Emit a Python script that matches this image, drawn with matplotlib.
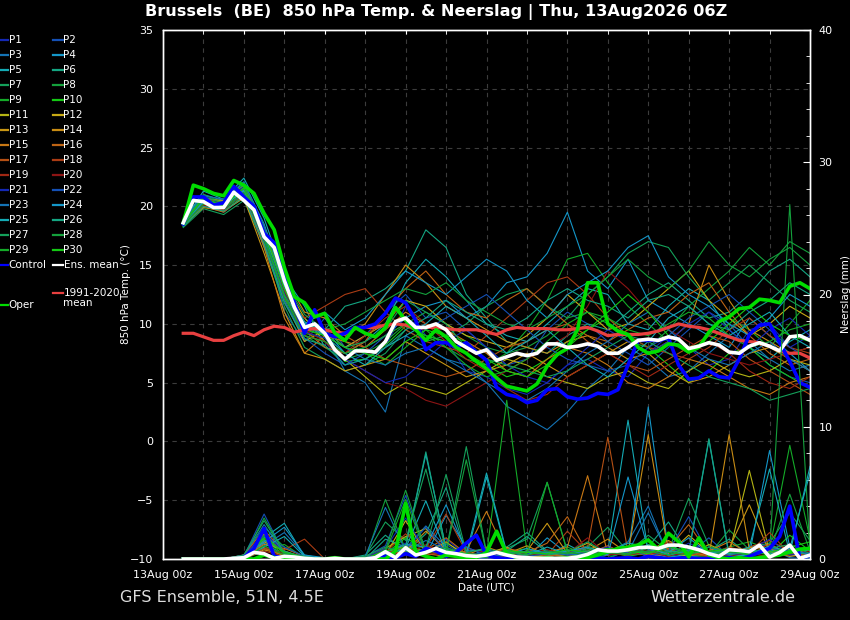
import numpy as np
import matplotlib
matplotlib.use('Agg')
import matplotlib.pyplot as plt
from matplotlib.lines import Line2D
from matplotlib.ticker import MultipleLocator

# Tijdas: uren na 13Aug 00z
uren_6h = np.arange(12, 385, 6)      # hoofdreeksen, 6-uurlijks
uren_12h = np.arange(12, 385, 12)    # leden, 12-uurlijks
xtick_uren = [0, 48, 96, 144, 192, 240, 288, 336, 384]
xtick_labels = ['13Aug 00z', '15Aug 00z', '17Aug 00z', '19Aug 00z', '21Aug 00z',
                '23Aug 00z', '25Aug 00z', '27Aug 00z', '29Aug 00z']

# Hoofdreeksen (850 hPa temp, C)
ens_mean = [18.6, 20.5, 20.4, 19.9, 19.9, 21.2, 20.5, 19.7, 17.4, 16.5, 13.7, 11.4, 9.7, 10.0,
            9.2, 7.8, 7.0, 7.7, 7.7, 7.6, 8.5, 10.2, 10.5, 9.7, 9.7, 10.0, 9.5, 8.5, 8.0, 7.5,
            7.8, 6.9, 7.2, 7.5, 7.3, 7.5, 8.3, 8.3, 8.0, 8.1, 8.3, 8.1, 7.5, 7.5, 8.0, 8.6,
            8.7, 8.6, 8.9, 8.7, 7.9, 8.1, 8.4, 8.2, 7.6, 7.5, 8.1, 8.4, 8.1, 7.7, 8.9, 9.0, 8.6]
klimaat = [9.2, 9.2, 8.9, 8.6, 8.6, 9.0, 9.3, 9.0, 9.5, 9.8, 9.7, 9.3, 9.5, 9.6, 9.5, 9.3,
           9.2, 9.6, 9.7, 9.7, 9.9, 10.0, 9.9, 9.6, 9.7, 9.7, 9.6, 9.5, 9.5, 9.5, 9.3, 9.1,
           9.5, 9.7, 9.6, 9.6, 9.6, 9.5, 9.5, 9.6, 9.7, 9.4, 9.0, 9.1, 9.1, 9.1, 9.2, 9.4,
           9.7, 10.0, 9.8, 9.7, 9.5, 9.2, 8.9, 8.6, 8.5, 8.4, 8.1, 7.7, 7.5, 7.5, 7.1]
control = [18.5, 20.8, 20.8, 20.1, 20.3, 21.7, 20.8, 20.0, 17.7, 16.9, 14.0, 11.8, 9.2, 11.2,
           9.2, 8.9, 9.2, 9.7, 9.7, 10.0, 10.9, 12.2, 11.8, 10.3, 7.8, 8.4, 8.4, 8.0, 8.4, 7.6,
           6.9, 4.6, 4.0, 3.8, 3.3, 3.5, 4.4, 4.5, 3.8, 3.6, 3.7, 4.1, 4.0, 4.4, 6.5, 8.6,
           8.6, 8.6, 8.8, 6.5, 5.3, 5.4, 6.0, 5.5, 5.4, 7.0, 9.1, 9.9, 10.0, 8.4, 6.8, 5.0, 4.6]
oper = [18.6, 21.8, 21.5, 21.1, 20.9, 22.2, 21.8, 21.1, 19.4, 18.0, 14.8, 12.3, 11.8, 10.6,
        10.9, 9.2, 8.6, 9.7, 9.2, 8.9, 9.7, 11.4, 10.3, 9.5, 8.6, 9.5, 8.9, 8.0, 7.5, 6.8,
        6.2, 5.4, 4.7, 4.5, 4.3, 4.9, 6.4, 7.4, 7.9, 9.5, 13.5, 13.5, 10.0, 9.4, 9.1, 8.0,
        7.5, 7.7, 8.3, 8.2, 7.6, 8.0, 9.3, 10.2, 10.6, 11.3, 11.4, 12.1, 12.0, 11.8, 13.2, 13.5, 13.0]

# Neerslag hoofdreeksen (mm per 6 uur)
neerslag_mean = [0, 0, 0, 0, 0, 0.05, 0.1, 0.5, 0.4, 0.05, 0.2, 0.15, 0.05, 0, 0, 0.05, 0, 0, 0,
                 0.1, 0.55, 0.1, 0.85, 0.3, 0.5, 0.8, 0.5, 0.4, 0.25, 0.2, 0.3, 0.5, 0.3, 0.15,
                 0.1, 0.05, 0.05, 0.05, 0.05, 0.15, 0.35, 0.7, 0.6, 0.6, 0.7, 0.85, 0.9, 0.8,
                 1.05, 1.05, 0.9, 0.7, 0.4, 0.2, 0.7, 0.65, 0.55, 1.05, 0.15, 0.5, 1.05, 0.05, 0.3]
neerslag_control = [0, 0, 0, 0, 0, 0, 0.1, 0.8, 2.3, 0.2, 0.1, 0, 0, 0, 0, 0, 0, 0, 0, 0.1, 0.2,
                    0.1, 0.4, 0.2, 0.8, 0.6, 0.2, 0.5, 1.2, 1.8, 0.3, 0.1, 0, 0.05, 0, 0, 0.05,
                    0, 0, 0, 0, 0.1, 0, 0.05, 0.1, 0, 0.2, 0.1, 0, 0.05, 0.1, 0, 0.05, 0, 0.1,
                    0, 0.2, 0.5, 0.8, 1.7, 4.0, 0, 0.3]
neerslag_oper = [0, 0, 0, 0, 0, 0, 0, 0, 0.3, 0.1, 0, 0, 0, 0, 0, 0.1, 0, 0, 0, 0, 0, 0.6, 4.2,
                 0.5, 0.2, 0, 0.3, 0.2, 0, 0.1, 0.5, 2.1, 0.4, 0.1, 0.1, 0, 0.1, 0, 0.1, 0,
                 0.1, 0.3, 0.55, 0.8, 0.9, 1.06, 1.44, 0.7, 1.95, 1.3, 0.15, 1.6, 0.3, 0.1, 0,
                 0.1, 0, 0.1, 0.2, 0.3, 0.55, 0.75, 0.8]

# Leden P1..P30, 850 hPa temp (12-uurlijks)
leden_temp = [
    [18.3, 20.0, 19.8, 21.0, 17.0, 12.5, 9.0, 8.5, 6.5, 7.0, 8.0, 11.5, 9.0, 8.5, 6.0, 5.5, 4.5, 4.0, 5.0, 6.5, 7.0, 6.0, 5.5, 7.5, 9.0, 8.0, 6.5, 7.0, 9.5, 10.0, 8.0, 9.0],
    [18.8, 20.8, 20.4, 21.8, 18.0, 11.0, 8.5, 10.5, 8.0, 9.0, 11.0, 12.5, 10.5, 11.0, 9.5, 8.0, 6.5, 7.0, 9.5, 11.0, 10.0, 8.5, 7.5, 6.5, 8.0, 9.5, 11.0, 10.0, 8.0, 6.5, 5.5, 5.0],
    [18.5, 20.3, 19.5, 20.8, 16.5, 12.0, 10.5, 9.0, 6.0, 5.0, 2.5, 9.0, 8.0, 7.0, 6.5, 5.0, 3.0, 2.0, 1.0, 2.5, 4.5, 6.0, 8.0, 7.0, 5.5, 6.0, 7.5, 9.0, 8.5, 7.0, 6.0, 6.5],
    [18.9, 21.0, 20.5, 22.0, 18.5, 13.5, 10.0, 9.5, 7.5, 8.0, 9.0, 10.5, 11.5, 12.0, 10.5, 11.5, 13.5, 14.0, 16.0, 19.5, 14.5, 13.0, 15.5, 12.0, 11.0, 10.0, 9.0, 8.0, 10.5, 9.0, 7.5, 6.0],
    [18.7, 21.3, 20.6, 22.4, 19.0, 14.0, 11.5, 8.0, 7.5, 8.5, 10.0, 13.5, 15.5, 14.0, 12.0, 10.0, 9.0, 8.5, 10.0, 11.5, 13.0, 12.5, 10.0, 9.5, 11.5, 13.0, 12.0, 9.5, 8.0, 7.0, 8.5, 9.5],
    [18.4, 20.5, 20.1, 21.5, 17.8, 12.8, 10.0, 9.5, 11.5, 12.0, 13.0, 14.5, 18.0, 16.5, 12.5, 10.5, 8.5, 8.0, 7.5, 9.0, 10.0, 9.5, 11.0, 12.5, 13.5, 12.0, 10.5, 11.0, 12.5, 14.5, 15.5, 14.0],
    [18.2, 19.8, 19.3, 20.5, 16.8, 11.5, 8.0, 7.0, 6.0, 6.5, 7.5, 9.5, 8.5, 9.0, 10.0, 11.5, 12.5, 13.0, 11.5, 10.5, 12.5, 14.0, 16.0, 17.0, 16.5, 14.0, 12.0, 13.5, 15.0, 13.5, 12.0, 11.0],
    [18.6, 20.6, 20.0, 21.3, 17.5, 12.0, 9.0, 8.0, 7.0, 7.5, 8.5, 10.0, 11.0, 10.0, 9.0, 8.0, 7.5, 8.0, 9.0, 10.5, 11.0, 10.0, 8.5, 8.0, 9.5, 11.5, 13.0, 14.5, 16.5, 15.0, 17.0, 16.0],
    [18.5, 21.0, 20.3, 21.6, 18.2, 12.5, 9.5, 9.0, 8.5, 7.5, 6.5, 8.0, 9.5, 8.0, 7.0, 6.5, 7.5, 9.5, 12.0, 15.5, 16.0, 13.5, 11.5, 10.0, 8.5, 7.5, 9.0, 10.5, 9.5, 8.0, 10.0, 12.0],
    [18.3, 20.2, 19.7, 21.0, 17.2, 12.2, 9.2, 8.8, 6.8, 7.0, 8.2, 9.8, 9.0, 8.5, 7.5, 6.5, 5.5, 6.0, 7.0, 8.5, 9.5, 10.5, 9.0, 8.0, 6.5, 5.0, 6.0, 7.5, 8.0, 6.5, 5.5, 4.5],
    [18.9, 20.6, 20.5, 21.8, 17.8, 13.5, 10.5, 8.5, 7.0, 5.5, 4.0, 5.0, 4.5, 4.0, 5.0, 6.0, 7.0, 6.5, 5.5, 5.0, 4.5, 5.5, 6.0, 5.0, 4.5, 6.0, 7.0, 6.0, 5.5, 6.0, 7.0, 6.5],
    [18.6, 20.1, 19.9, 21.1, 16.8, 12.0, 8.5, 9.5, 8.0, 9.0, 10.0, 12.0, 11.5, 10.0, 9.0, 8.5, 8.0, 9.0, 10.5, 12.5, 11.0, 9.5, 10.0, 11.5, 13.0, 14.5, 12.0, 10.5, 9.0, 10.0, 11.5, 10.5],
    [18.4, 19.9, 19.6, 20.7, 16.0, 11.0, 7.5, 7.0, 6.0, 6.5, 7.0, 8.5, 7.5, 6.5, 5.5, 6.0, 6.5, 7.5, 6.5, 5.5, 6.5, 7.5, 8.5, 7.5, 6.0, 5.0, 5.5, 6.5, 7.5, 8.0, 7.0, 6.0],
    [18.8, 20.4, 20.2, 21.4, 17.5, 14.0, 11.0, 10.5, 9.0, 10.0, 12.5, 15.0, 13.5, 11.5, 10.5, 9.5, 8.5, 8.0, 7.5, 8.5, 9.0, 8.0, 7.0, 7.5, 8.5, 10.0, 15.0, 12.0, 9.5, 8.5, 7.5, 8.0],
    [18.7, 20.3, 19.8, 21.2, 16.5, 10.5, 7.5, 9.0, 8.5, 8.0, 9.5, 11.0, 10.0, 9.5, 8.5, 7.5, 6.0, 5.5, 7.0, 8.0, 7.5, 6.5, 5.0, 4.5, 5.5, 7.0, 6.5, 5.5, 4.5, 4.0, 5.0, 5.5],
    [18.5, 20.0, 19.5, 20.9, 17.0, 12.5, 9.5, 8.0, 7.5, 8.5, 11.0, 13.0, 14.5, 12.5, 11.0, 10.5, 12.0, 13.0, 11.5, 10.0, 9.0, 8.5, 9.5, 10.5, 11.0, 12.5, 13.5, 11.0, 9.0, 7.5, 6.5, 7.0],
    [18.6, 20.7, 20.3, 21.6, 18.0, 13.0, 9.8, 9.5, 9.0, 8.0, 7.0, 6.5, 6.0, 5.5, 6.0, 7.0, 8.0, 8.5, 9.5, 10.0, 8.5, 7.5, 6.5, 6.0, 7.0, 8.0, 9.0, 8.5, 7.0, 6.0, 5.0, 4.0],
    [18.4, 20.2, 19.9, 21.0, 17.3, 12.2, 10.5, 11.5, 12.5, 13.0, 11.0, 9.5, 8.5, 8.0, 7.5, 9.0, 10.5, 12.0, 13.5, 14.0, 12.5, 10.5, 9.0, 8.0, 7.5, 7.0, 8.0, 9.5, 10.5, 9.0, 8.0, 7.5],
    [18.7, 20.5, 20.1, 21.5, 17.6, 12.8, 9.0, 8.5, 7.5, 9.0, 10.5, 11.5, 10.0, 8.5, 7.0, 6.0, 4.5, 3.5, 4.0, 5.5, 6.5, 7.5, 6.5, 5.5, 6.5, 7.5, 8.5, 7.5, 6.0, 5.0, 4.5, 5.5],
    [18.5, 20.1, 19.7, 21.2, 17.0, 12.5, 9.5, 8.5, 7.0, 6.0, 5.0, 4.5, 3.5, 3.0, 4.0, 5.0, 6.0, 7.0, 8.0, 9.0, 11.5, 14.5, 13.0, 11.0, 9.5, 8.5, 7.5, 7.0, 6.5, 7.0, 7.5, 8.0],
    [18.6, 20.6, 20.2, 21.7, 17.7, 12.6, 9.3, 8.8, 7.0, 6.0, 5.0, 5.5, 7.0, 8.5, 9.5, 8.0, 6.5, 5.5, 5.0, 6.5, 8.0, 9.5, 8.5, 7.5, 8.5, 10.0, 11.0, 9.5, 8.0, 9.5, 10.5, 9.0],
    [18.4, 20.3, 19.8, 21.1, 17.1, 12.0, 8.8, 7.5, 6.5, 7.5, 9.0, 10.5, 9.5, 10.5, 11.5, 12.5, 11.0, 9.5, 8.0, 7.0, 6.5, 6.0, 6.5, 8.0, 9.0, 10.5, 11.5, 12.5, 11.0, 9.5, 8.0, 7.0],
    [18.8, 20.9, 20.6, 22.1, 18.3, 13.3, 9.8, 9.0, 8.0, 7.0, 6.5, 7.5, 8.0, 7.0, 6.0, 5.0, 4.0, 3.5, 4.5, 6.0, 7.5, 8.5, 10.0, 11.0, 9.5, 8.0, 7.0, 6.5, 7.5, 8.5, 7.0, 6.0],
    [18.5, 20.4, 20.0, 21.4, 17.4, 12.4, 10.0, 11.0, 9.5, 10.5, 12.5, 14.5, 13.5, 12.5, 14.0, 15.5, 14.5, 12.0, 10.5, 12.5, 13.5, 14.5, 16.5, 17.5, 14.0, 12.5, 11.5, 10.0, 9.0, 10.5, 12.5, 11.5],
    [18.6, 20.5, 20.1, 21.3, 17.6, 13.2, 10.2, 9.0, 7.5, 6.5, 8.0, 9.0, 10.0, 11.5, 10.5, 9.0, 7.5, 8.5, 9.5, 8.0, 6.5, 5.5, 7.0, 8.5, 10.5, 11.5, 10.0, 9.0, 10.0, 11.0, 9.0, 8.0],
    [18.3, 20.0, 19.6, 20.8, 16.8, 11.8, 8.7, 8.2, 6.5, 7.0, 8.0, 9.5, 10.5, 12.0, 11.0, 10.0, 9.5, 10.5, 12.0, 13.0, 12.0, 11.5, 10.5, 12.0, 12.5, 11.5, 10.0, 9.5, 11.0, 12.0, 13.5, 12.5],
    [18.7, 20.8, 20.3, 21.9, 18.1, 13.6, 10.8, 9.5, 8.0, 8.5, 9.5, 12.0, 11.0, 10.0, 8.0, 7.0, 6.5, 6.0, 5.5, 6.0, 7.0, 8.0, 9.0, 8.5, 7.5, 6.5, 5.5, 5.0, 4.5, 3.5, 4.0, 4.5],
    [18.5, 20.6, 20.2, 21.5, 17.5, 12.5, 9.5, 9.5, 10.0, 11.0, 12.0, 13.0, 12.5, 13.5, 12.0, 11.0, 10.0, 9.5, 10.5, 11.5, 12.5, 14.0, 15.5, 14.0, 13.0, 14.5, 17.0, 15.0, 14.0, 15.5, 16.5, 15.0],
    [18.4, 20.2, 19.8, 21.2, 17.2, 12.3, 9.0, 8.5, 7.5, 8.0, 9.0, 10.0, 9.0, 8.0, 6.5, 5.5, 6.0, 7.0, 8.5, 10.0, 11.0, 10.5, 9.5, 9.0, 10.0, 11.0, 10.5, 9.0, 8.0, 8.5, 9.5, 10.0],
    [18.6, 20.7, 20.0, 21.6, 17.9, 13.0, 9.6, 9.0, 8.0, 7.5, 7.0, 8.5, 9.5, 9.0, 8.5, 7.0, 6.0, 5.5, 6.5, 8.0, 9.5, 11.0, 12.5, 11.0, 9.0, 8.0, 8.5, 10.0, 11.5, 10.0, 9.0, 8.5],
]

# Leden P1..P30, neerslag (mm, 12-uurlijks)
leden_neerslag = [
    [0, 0, 0, 0.3, 1.8, 0.6, 0, 0, 0, 0.1, 0.5, 1.2, 0.4, 1.5, 0.3, 0, 0.2, 0.6, 0.1, 0, 0.3, 1.0, 0.2, 0.5, 0.1, 0.8, 0.3, 0.1, 0.6, 1.2, 0.2, 0.4],
    [0, 0, 0, 0.2, 3.4, 0.4, 0.1, 0, 0, 0.2, 1.0, 4.8, 0.6, 1.1, 0.2, 0.4, 0, 0.1, 0.3, 0.5, 0.2, 0, 0.7, 0.3, 0, 0.4, 1.6, 0.2, 0, 0.3, 0.5, 0.1],
    [0, 0, 0, 0, 1.0, 2.0, 0.3, 0, 0, 0, 0.4, 0.8, 2.5, 0.9, 0, 0.1, 0.6, 0.2, 0, 0, 0.1, 0.5, 1.3, 4.0, 0.2, 0.1, 0.9, 0.3, 0.2, 0.8, 0.1, 0],
    [0, 0, 0, 0.1, 1.2, 0.3, 0, 0.1, 0, 0.1, 0.2, 0.6, 0.3, 3.3, 0.9, 0.2, 0.7, 0.1, 1.6, 0.4, 0, 0.3, 0.4, 11.5, 0.6, 0.2, 0.1, 0.5, 0.3, 8.2, 0.9, 0.2],
    [0, 0, 0, 0.2, 1.6, 2.7, 0.2, 0, 0, 0, 0.3, 0.9, 7.9, 0.8, 0.1, 6.2, 0.4, 0, 0.2, 1.1, 0.3, 0.6, 10.5, 0.5, 0.1, 0.4, 9.0, 0.2, 0.3, 0.6, 0.8, 6.5],
    [0, 0, 0, 0, 0.8, 0.4, 0, 0, 0, 0.3, 1.8, 0.5, 1.9, 5.4, 0.3, 0.2, 0.9, 2.0, 0.6, 0.1, 0.5, 0.8, 0.3, 0.9, 2.8, 0.4, 0.6, 1.5, 0.3, 0.9, 0.5, 0.3],
    [0, 0, 0, 0.3, 2.4, 0.9, 0.2, 0, 0, 0.2, 2.8, 1.4, 6.8, 0.6, 8.5, 0.5, 0.8, 1.5, 5.8, 0.6, 0.9, 2.4, 0.5, 1.8, 0.6, 4.6, 1.0, 0.3, 0.9, 1.2, 3.5, 1.4],
    [0, 0, 0, 0.1, 3.1, 0.5, 0.1, 0, 0.1, 0, 4.5, 0.7, 0.5, 1.2, 0.4, 0.1, 0.6, 0.3, 0.2, 0.4, 1.0, 0.3, 0.7, 1.5, 0.2, 0.5, 0.3, 2.2, 0.7, 0.4, 26.8, 0.6],
    [0, 0, 0, 0, 0.6, 1.1, 0.1, 0, 0, 0.1, 0.2, 0.5, 1.0, 0.4, 0.2, 0.3, 12.0, 0.6, 0.4, 0.9, 0.3, 0.1, 0.6, 0.4, 0.8, 0.2, 0.4, 0.9, 1.3, 0.7, 8.6, 1.5],
    [0, 0, 0, 0.2, 1.5, 0.3, 0, 0, 0, 0, 0.4, 1.6, 0.7, 0.3, 0.1, 0.2, 0.5, 0.8, 0.3, 0.2, 0.4, 0.6, 0.2, 0.5, 1.0, 0.3, 0.2, 0.5, 0.8, 0.3, 1.8, 0.6],
    [0, 0, 0, 0.1, 0.9, 0.2, 0, 0, 0, 0.1, 0.8, 1.7, 2.3, 0.6, 0.5, 0.2, 0.4, 0.3, 0.1, 0.6, 0.2, 0.4, 0.9, 0.3, 0.5, 0.2, 1.1, 0.4, 6.7, 0.5, 0.3, 0.2],
    [0, 0, 0, 0.2, 1.3, 0.6, 0.1, 0, 0, 0, 0.3, 2.9, 0.5, 1.3, 0.2, 0.4, 0.9, 0.1, 0.3, 0.5, 1.2, 0.3, 0.7, 0.2, 0.4, 1.8, 0.5, 0.3, 0.9, 0.6, 0.2, 0.4],
    [0, 0, 0, 0, 0.7, 0.3, 0, 0, 0, 0, 0.5, 1.0, 0.6, 0.4, 0.1, 0.3, 0.2, 0.6, 2.7, 0.4, 0.3, 0.8, 0.4, 0.6, 1.4, 0.5, 0.3, 0.8, 4.1, 0.5, 0.7, 0.3],
    [0, 0, 0, 0.2, 1.9, 0.4, 0, 0, 0, 0.1, 0.3, 0.6, 2.1, 0.7, 0.3, 0.9, 0.4, 1.0, 0.3, 0.2, 0.6, 1.5, 0.4, 9.4, 0.5, 0.6, 0.2, 9.4, 0.7, 0.3, 0.5, 0.2],
    [0, 0, 0, 0.1, 1.1, 0.8, 0.2, 0, 0, 0, 0.2, 0.9, 0.4, 0.2, 0.6, 3.6, 0.3, 0.2, 0.5, 0.9, 6.3, 0.4, 0.6, 0.3, 0.9, 0.2, 0.6, 1.3, 0.4, 0.8, 0.3, 0.5],
    [0, 0, 0, 0.3, 2.2, 0.5, 0.1, 0, 0.1, 0, 0.6, 0.4, 0.7, 1.6, 0.4, 0.3, 0.8, 0.5, 1.2, 3.2, 0.4, 1.0, 0.3, 0.6, 0.8, 2.6, 0.4, 0.3, 0.6, 1.1, 0.4, 0.7],
    [0, 0, 0, 0, 0.8, 0.3, 0, 0, 0, 0.1, 0.4, 0.7, 0.3, 0.5, 0.2, 0.4, 0.3, 0.6, 0.2, 0.4, 0.9, 9.2, 0.5, 0.3, 0.7, 0.4, 0.2, 0.5, 0.9, 1.4, 0.6, 0.2],
    [0, 0, 0, 0.2, 1.4, 0.7, 1.5, 0, 0, 0, 0.5, 1.9, 0.8, 3.4, 0.5, 0.2, 0.6, 0.4, 0.3, 2.1, 0.5, 0.3, 0.8, 0.4, 1.3, 0.6, 0.3, 0.9, 0.5, 2.0, 0.4, 0.3],
    [0, 0, 0, 0.1, 0.6, 0.2, 0, 0, 0, 0, 0.3, 0.8, 0.5, 0.3, 0.8, 0.5, 0.2, 0.4, 0.7, 0.3, 0.6, 0.4, 0.3, 0.5, 0.2, 0.8, 0.3, 0.6, 0.4, 0.2, 0.5, 0.9],
    [0, 0, 0, 0, 0.9, 0.4, 0.1, 0, 0, 0.2, 0.6, 0.3, 1.1, 0.4, 0.2, 0.3, 0.5, 0.2, 0.6, 0.4, 1.6, 0.3, 0.5, 0.7, 0.3, 0.4, 0.6, 0.2, 0.5, 0.4, 0.3, 0.6],
    [0, 0, 0, 0.2, 2.0, 0.5, 0, 0, 0, 0.1, 0.8, 3.1, 0.6, 0.8, 0.3, 0.5, 0.2, 0.4, 0.6, 0.3, 0.5, 0.9, 0.4, 0.6, 0.3, 1.2, 0.5, 0.4, 0.7, 1.5, 0.3, 0.5],
    [0, 0, 0, 0.1, 1.7, 0.9, 0.2, 0, 0, 0, 0.4, 0.7, 2.4, 0.5, 0.9, 0.3, 0.6, 0.2, 0.4, 0.7, 0.3, 0.5, 0.8, 0.2, 0.6, 3.2, 0.4, 0.3, 0.5, 0.8, 0.6, 0.4],
    [0, 0, 0, 0.3, 2.6, 0.4, 0.1, 0, 0, 0.2, 3.9, 0.6, 1.4, 0.7, 0.4, 0.2, 0.3, 0.6, 0.5, 0.3, 0.4, 0.7, 0.5, 3.5, 0.3, 0.6, 0.9, 0.4, 0.6, 0.5, 0.8, 0.3],
    [0, 0, 0, 0.2, 1.3, 2.4, 0.3, 0.1, 0, 0, 0.5, 1.1, 0.9, 4.1, 0.6, 0.7, 0.3, 0.8, 0.4, 0.6, 0.9, 0.3, 6.2, 0.7, 0.5, 1.6, 0.4, 0.8, 0.3, 1.0, 0.5, 0.7],
    [0, 0, 0, 0.1, 0.9, 1.7, 0.2, 0, 0, 0.1, 0.3, 0.8, 4.4, 0.5, 0.4, 6.5, 0.5, 0.3, 0.9, 0.4, 0.6, 0.5, 1.2, 0.9, 0.3, 0.7, 0.5, 0.4, 0.9, 6.8, 0.4, 7.0],
    [0, 0, 0, 0.2, 1.4, 0.6, 0.1, 0, 0, 0, 1.5, 0.9, 8.1, 0.7, 0.3, 0.4, 0.6, 1.7, 0.5, 0.4, 0.8, 0.6, 0.4, 1.1, 0.6, 0.5, 9.1, 0.3, 0.7, 0.4, 0.6, 0.3],
    [0, 0, 0, 0.3, 2.9, 0.5, 0.2, 0, 0, 0.2, 0.9, 0.4, 0.8, 6.4, 0.5, 0.8, 0.4, 0.6, 0.3, 0.5, 1.3, 0.4, 0.7, 0.5, 0.9, 0.4, 0.6, 0.5, 0.3, 0.8, 1.1, 0.4],
    [0, 0, 0, 0.1, 1.8, 0.4, 0, 0, 0.1, 0, 0.7, 5.2, 0.6, 0.5, 7.5, 0.4, 0.5, 0.3, 0.6, 0.4, 0.7, 0.5, 0.3, 0.8, 0.5, 0.3, 0.9, 0.6, 0.4, 0.5, 4.9, 0.6],
    [0, 0, 0, 0, 1.0, 0.3, 0, 0, 0, 0.1, 0.5, 4.5, 0.4, 0.9, 0.3, 0.2, 0.7, 0.4, 5.8, 0.5, 0.3, 0.6, 0.4, 0.6, 0.3, 0.8, 0.4, 0.5, 0.6, 0.3, 0.4, 0.8],
    [0, 0, 0, 0.2, 1.6, 0.5, 0.1, 0, 0, 0, 0.6, 0.9, 0.5, 0.7, 0.4, 0.3, 0.6, 0.5, 0.4, 0.7, 0.5, 0.8, 0.6, 0.4, 1.0, 0.5, 0.6, 0.7, 0.3, 0.5, 0.9, 1.3],
]

leden_namen = ['P%d' % (i + 1) for i in range(30)]

# Kleuren leden (cyclus van 20)
kleuren = ['#1428b4', '#1450b4', '#1473b4', '#1496c8', '#14aab4', '#14a582', '#14a05a',
           '#14a03c', '#14aa28', '#14c814', '#b4b414', '#c8aa14', '#c89614', '#c88c14',
           '#c87814', '#be6414', '#b45014', '#aa3c14', '#a02814', '#8c1414']

KLEUR_CONTROL = '#0000ff'
KLEUR_OPER = '#00dd00'
KLEUR_MEAN = '#ffffff'
KLEUR_KLIMAAT = '#e84040'

# Figuur
fig = plt.figure(figsize=(8.5, 6.2), dpi=100, facecolor='black')
ax = fig.add_axes([163/850, 61/620, 647/850, 529/620], facecolor='black')
ax2 = ax.twinx()

for i in range(30):
    ax.plot(uren_12h, leden_temp[i], color=kleuren[i % 20], lw=0.8, zorder=2)
    ax2.plot(uren_12h, leden_neerslag[i], color=kleuren[i % 20], lw=0.8, zorder=2)

ax.plot(uren_6h, klimaat, color=KLEUR_KLIMAAT, lw=2.3, zorder=3)
ax.plot(uren_6h, control, color=KLEUR_CONTROL, lw=2.6, zorder=4)
ax.plot(uren_6h, oper, color=KLEUR_OPER, lw=2.6, zorder=5)
ax.plot(uren_6h, ens_mean, color=KLEUR_MEAN, lw=2.6, zorder=6)

ax2.plot(uren_6h, neerslag_control, color=KLEUR_CONTROL, lw=2.6, zorder=4)
ax2.plot(uren_6h, neerslag_oper, color=KLEUR_OPER, lw=2.6, zorder=5)
ax2.plot(uren_6h, neerslag_mean, color=KLEUR_MEAN, lw=2.6, zorder=6)

# Assen
ax.set_xlim(0, 384)
ax.set_ylim(-10, 35)
ax2.set_ylim(0, 40)

ax.set_xticks(xtick_uren)
ax.set_xticklabels(xtick_labels)
ax.xaxis.set_minor_locator(MultipleLocator(24))
ax.yaxis.set_major_locator(MultipleLocator(5))

ax.grid(True, which='both', axis='x', color='#3c3c3c', lw=0.8, ls=(0, (4, 4)))
ax.grid(True, which='major', axis='y', color='#3c3c3c', lw=0.8, ls=(0, (4, 4)))
ax.set_axisbelow(True)

ax.tick_params(axis='x', which='both', direction='in', length=3, color='white',
               bottom=False, top=True, labelbottom=True, labelsize=8,
               labelcolor='white', pad=8)
ax.tick_params(axis='y', length=0, labelsize=8, labelcolor='white', pad=7)

ax2.yaxis.set_major_locator(MultipleLocator(10))
ax2.yaxis.set_minor_locator(MultipleLocator(2))
ax2.tick_params(axis='y', which='major', direction='in', length=5, color='white',
                labelsize=8, labelcolor='white', pad=6)
ax2.tick_params(axis='y', which='minor', direction='in', length=3, color='white')

for a in (ax, ax2):
    for s in a.spines.values():
        s.set_color('white')
        s.set_linewidth(1)

ax.set_ylabel('850 hPa Temp. (°C)', color='white', fontsize=7.5)
ax.yaxis.set_label_coords(-(163 - 131) / 647, 0.5)
ax.set_xlabel('Date (UTC)', color='white', fontsize=7.5, labelpad=2)
ax2.set_ylabel('Neerslag (mm)', color='white', fontsize=7.5)
ax2.yaxis.set_label_coords(1 + (841 - 810) / 647, 0.5)

# Titel en voetteksten
fig.text(0.513, 0.981, 'Brussels  (BE)  850 hPa Temp. & Neerslag | Thu, 13Aug2026 06Z',
         color='white', fontsize=11.6, fontweight='bold', ha='center', va='center')
fig.text(120/850, 1 - 598/620, 'GFS Ensemble, 51N, 4.5E', color='#dddddd',
         fontsize=11.5, ha='left', va='center')
fig.text(650/850, 1 - 598/620, 'Wetterzentrale.de', color='#dddddd',
         fontsize=11.5, ha='left', va='center')

# Legenda (links buiten de grafiek)
def legenda_item(x0, x1, y_px, kleur, tekst):
    y = 1 - y_px / 620
    fig.add_artist(Line2D([x0 / 850, x1 / 850], [y, y], color=kleur,
                          lw=1.6, transform=fig.transFigure))
    fig.text((x1 + 0.5) / 850, y, tekst, color='white', fontsize=7.5, ha='left',
             va='center')

for i in range(30):
    rij = i // 2
    if i % 2 == 0:
        legenda_item(0, 8, 40 + 15 * rij, kleuren[i % 20], leden_namen[i])
    else:
        legenda_item(53, 63, 40 + 15 * rij, kleuren[i % 20], leden_namen[i])

legenda_item(0, 8, 265, KLEUR_CONTROL, 'Control')
legenda_item(53, 63, 265, KLEUR_MEAN, 'Ens. mean')
legenda_item(53, 63, 293, KLEUR_KLIMAAT, '1991-2020')
fig.text(63.5 / 850, 1 - 303 / 620, 'mean', color='white', fontsize=7.5, ha='left',
         va='center')
legenda_item(0, 8, 305, KLEUR_OPER, 'Oper')

fig.savefig('out.png', dpi=100, facecolor='black')
